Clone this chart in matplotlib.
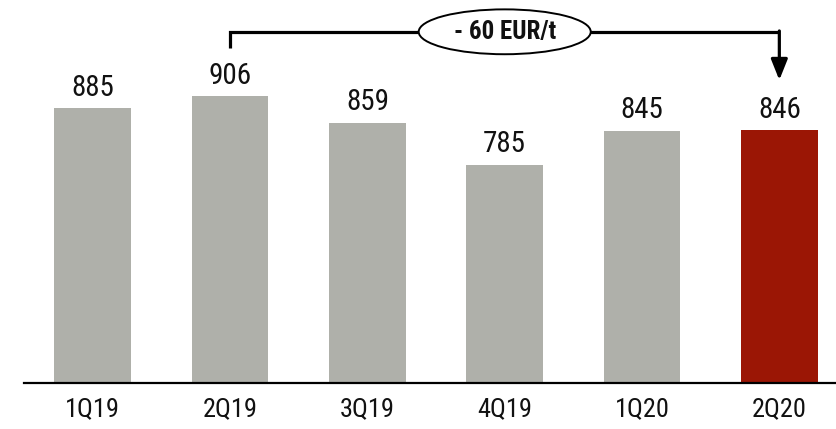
import matplotlib
matplotlib.use("Agg")
import matplotlib.pyplot as plt
from matplotlib.patches import Ellipse

categories = ["1Q19", "2Q19", "3Q19", "4Q19", "1Q20", "2Q20"]
values = [885, 906, 859, 785, 845, 846]
bar_colors = ["#AFB0AA", "#AFB0AA", "#AFB0AA", "#AFB0AA", "#AFB0AA", "#9B1605"]
change_label = "- 60 EUR/t"

plt.rcParams['font.family'] = ['Roboto Condensed', 'Liberation Sans', 'DejaVu Sans']

W, H = 837, 429
fig = plt.figure(figsize=(W / 100, H / 100), dpi=100)
ax = fig.add_axes([24 / W, 45.7 / H, 1 - 24 / W, 1 - 45.7 / H])

x = list(range(len(categories)))
ax.bar(x, values, width=0.558, color=bar_colors, edgecolor='none', zorder=2)
for xi, v in zip(x, values):
    ax.text(xi, v + 11, str(v), ha='center', va='bottom', fontsize=21, color='#111111')

ax.set_xlim(-0.501, 5.42)
ax.set_ylim(400, 1075)
ax.set_xticks(x)
ax.set_xticklabels(categories, fontsize=19, color='#111111')
ax.tick_params(axis='x', length=0, pad=10.3)
ax.set_yticks([])
for s in ['left', 'top', 'right']:
    ax.spines[s].set_visible(False)
ax.spines['bottom'].set_linewidth(1.6)
ax.spines['bottom'].set_color('black')

# bracket from 2Q19 to 2Q20
i0, i1 = 1, 5
y_top = 1019
ax.plot([i0, i0, i1], [991, y_top, y_top], color='black', lw=2.3,
        solid_joinstyle='miter', solid_capstyle='butt', zorder=3, clip_on=False)
ax.annotate('', xy=(i1, 934), xytext=(i1, y_top + 1.5),
            arrowprops=dict(arrowstyle='-|>,head_length=1.25,head_width=0.5',
                            lw=2.3, color='black', shrinkA=0, shrinkB=0,
                            mutation_scale=10), zorder=3)
ell = Ellipse(((i0 + i1) / 2, y_top), width=1.253, height=79,
              facecolor='white', edgecolor='black', lw=1.4, zorder=4, clip_on=False)
ax.add_patch(ell)
ax.text((i0 + i1) / 2, y_top, change_label, ha='center', va='center',
        fontsize=18, fontweight='bold', color='#111111', zorder=5)

fig.savefig("out.png", dpi=100)
